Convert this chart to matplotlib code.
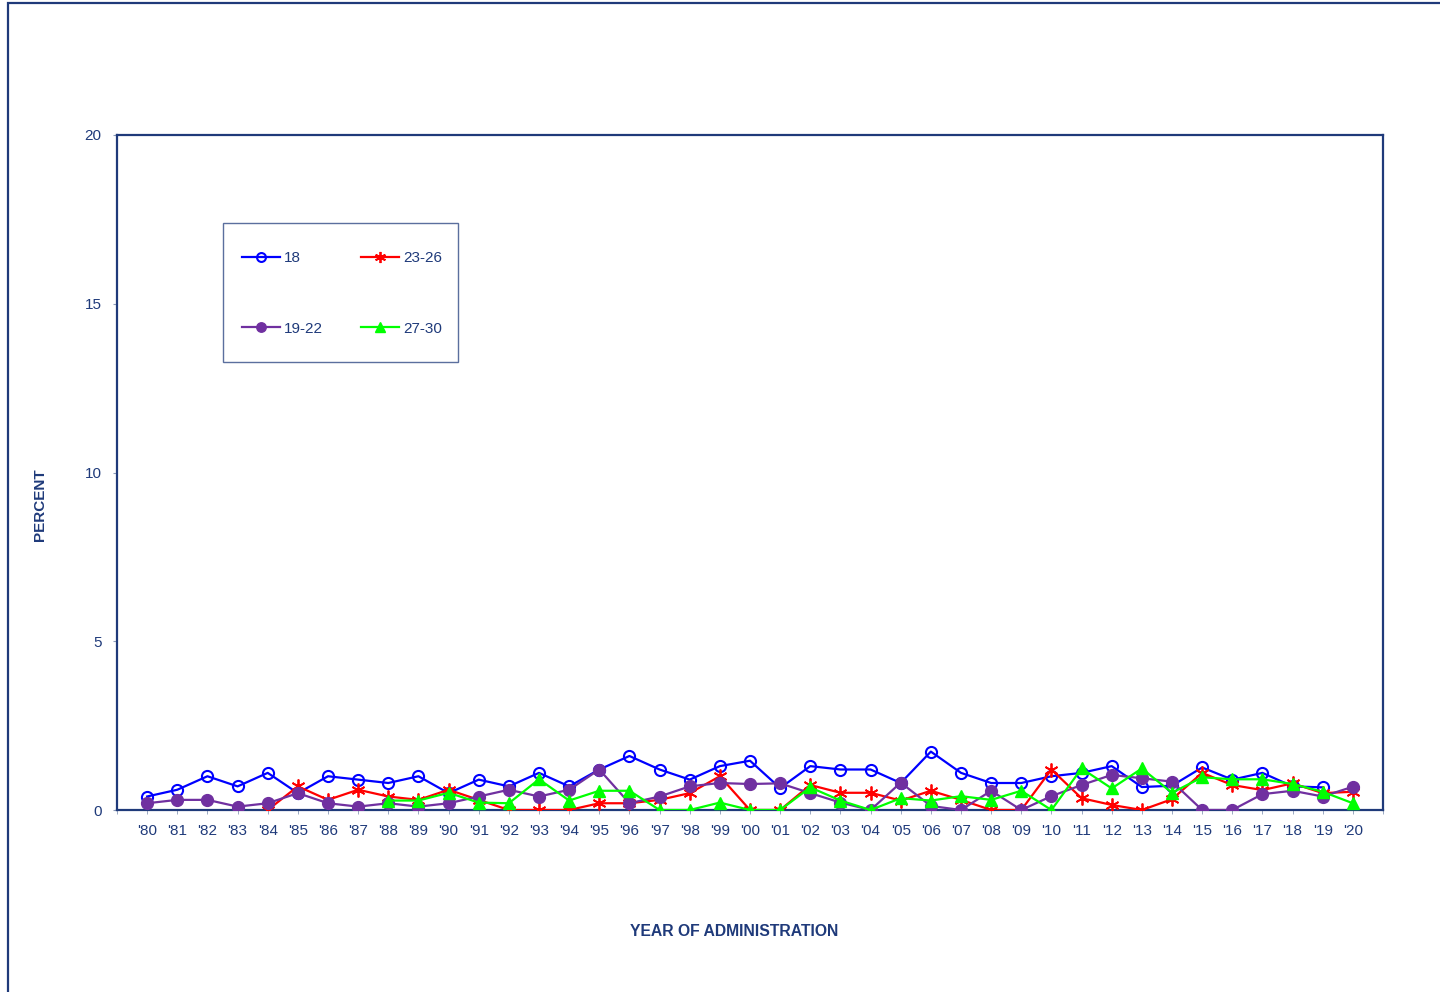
import matplotlib.pyplot as plt
from matplotlib.patches import Rectangle
import numpy as np

NAN = np.nan
NAVY = '#1f3a7a'

years = ["'%02d" % (y % 100) for y in range(1980, 2021)]

age_18 = [0.4, 0.6, 1.0, 0.7, 1.1, 0.5, 1.0, 0.9, 0.8, 1.0,
          0.5, 0.9, 0.7, 1.1, 0.7, 1.2, 1.6, 1.2, 0.9, 1.3,
          1.46, 0.65, 1.3, 1.2, 1.2, 0.8, 1.73, 1.1, 0.8, 0.8,
          1.0, 1.1, 1.3, 0.68, 0.72, 1.26, 0.9, 1.1, 0.7, 0.67,
          NAN]
age_19_22 = [0.2, 0.3, 0.3, 0.1, 0.2, 0.5, 0.2, 0.1, 0.2, 0.1,
             0.2, 0.4, 0.6, 0.4, 0.6, 1.2, 0.2, 0.4, 0.7, 0.8,
             0.77, 0.79, 0.5, 0.22, 0.0, 0.81, 0.12, 0.0, 0.57, 0.0,
             0.41, 0.74, 1.04, 0.94, 0.84, 0.0, 0.0, 0.47, 0.57, 0.4,
             0.69]
age_23_26 = [NAN, NAN, NAN, NAN, 0.0, 0.7, 0.3, 0.6, 0.4, 0.3,
             0.6, 0.3, 0.0, 0.0, 0.0, 0.2, 0.2, 0.3, 0.5, 1.0,
             0.0, 0.0, 0.74, 0.51, 0.51, 0.28, 0.57, 0.3, 0.0, 0.0,
             1.2, 0.35, 0.15, 0.0, 0.32, 1.1, 0.74, 0.59, 0.79, 0.5,
             0.54]
age_27_30 = [NAN, NAN, NAN, NAN, NAN, NAN, NAN, NAN, 0.28, 0.28,
             0.51, 0.22, 0.2, 0.91, 0.28, 0.57, 0.57, 0.0, 0.0, 0.22,
             0.0, 0.0, 0.67, 0.28, 0.0, 0.35, 0.28, 0.41, 0.3, 0.57,
             0.0, 1.23, 0.64, 1.23, 0.51, 0.97, 0.91, 0.91, 0.77, 0.54,
             0.2]

plt.rcParams['font.family'] = ['Liberation Sans', 'DejaVu Sans']

W, H = 1440, 992
fig = plt.figure(figsize=(W / 100, H / 100), dpi=100)
ax = fig.add_axes([117 / W, 1 - 810 / H, 1266 / W, 675 / H])

x = np.arange(len(years))
ax.plot(x, age_18, color='#0000ff', lw=1.6, marker='o', ms=8,
        mfc='none', mec='#0000ff', mew=1.5, label='18', zorder=3)
ax.plot(x, age_23_26, color='#ff0000', lw=1.6, marker=(6, 2, 0), ms=10,
        mec='#ff0000', mew=1.3, label='23-26', zorder=4)
ax.plot(x, age_19_22, color='#7030a0', lw=1.6, marker='o', ms=8.5,
        mfc='#7030a0', mec='#7030a0', label='19-22', zorder=5)
ax.plot(x, age_27_30, color='#00ff00', lw=1.6, marker='^', ms=8.5,
        mfc='#00ff00', mec='#00ff00', label='27-30', zorder=6)

ax.set_xlim(-1, len(years))
ax.set_ylim(0, 20)
ax.set_yticks([0, 5, 10, 15, 20])
ax.set_xticks(x)
ax.set_xticklabels(years)
ax.xaxis.remove_overlapping_locs = False
ax.set_xticks(np.arange(-1, len(years) + 1), minor=True)
ax.tick_params(axis='x', which='major', length=0, pad=10,
               labelsize=11, labelcolor=NAVY)
ax.tick_params(axis='x', which='minor', length=3, color='#8c9bb8',
               direction='out')
ax.tick_params(axis='y', length=3, color='#8c9bb8', labelsize=11,
               labelcolor=NAVY, pad=8)
for sp in ax.spines.values():
    sp.set_color(NAVY)
    sp.set_linewidth(1.6)

ax.set_ylabel('PERCENT', fontsize=11, fontweight='bold', color=NAVY)
ax.yaxis.set_label_coords((40 - 117) / 1266, (810 - 505) / 675)
ax.set_xlabel('YEAR OF ADMINISTRATION', fontsize=11.3, fontweight='bold',
              color=NAVY)
ax.xaxis.set_label_coords((734 - 117) / 1266, (810 - 932) / 675)
ax.xaxis.label.set_va('center')
ax.yaxis.label.set_va('center')

# legend box drawn by hand, entries placed inside it
fig.patches.append(Rectangle((223 / W, 1 - 362 / H), 235 / W, 139 / H,
                             transform=fig.transFigure, fill=False,
                             edgecolor='#5b6f9e', linewidth=1.0, zorder=7))
leg_order = [0, 2, 1, 3]
h, l = ax.get_legend_handles_labels()
leg = ax.legend([h[i] for i in leg_order], [l[i] for i in leg_order],
                ncol=2, loc='upper left',
                bbox_to_anchor=(242 / W, 1 - 251 / H),
                bbox_transform=fig.transFigure,
                frameon=False, fontsize=11,
                labelspacing=3.7, columnspacing=2.5, handlelength=2.5,
                handletextpad=0.25, borderpad=0, borderaxespad=0,
                markerscale=0.8)
for t in leg.get_texts():
    t.set_color(NAVY)

fig.patches.append(Rectangle((8 / W, -0.1), 1.2, 1 - 3 / H + 0.1,
                             transform=fig.transFigure, fill=False,
                             edgecolor=NAVY, linewidth=1.6))

fig.savefig('out.png', dpi=100)
